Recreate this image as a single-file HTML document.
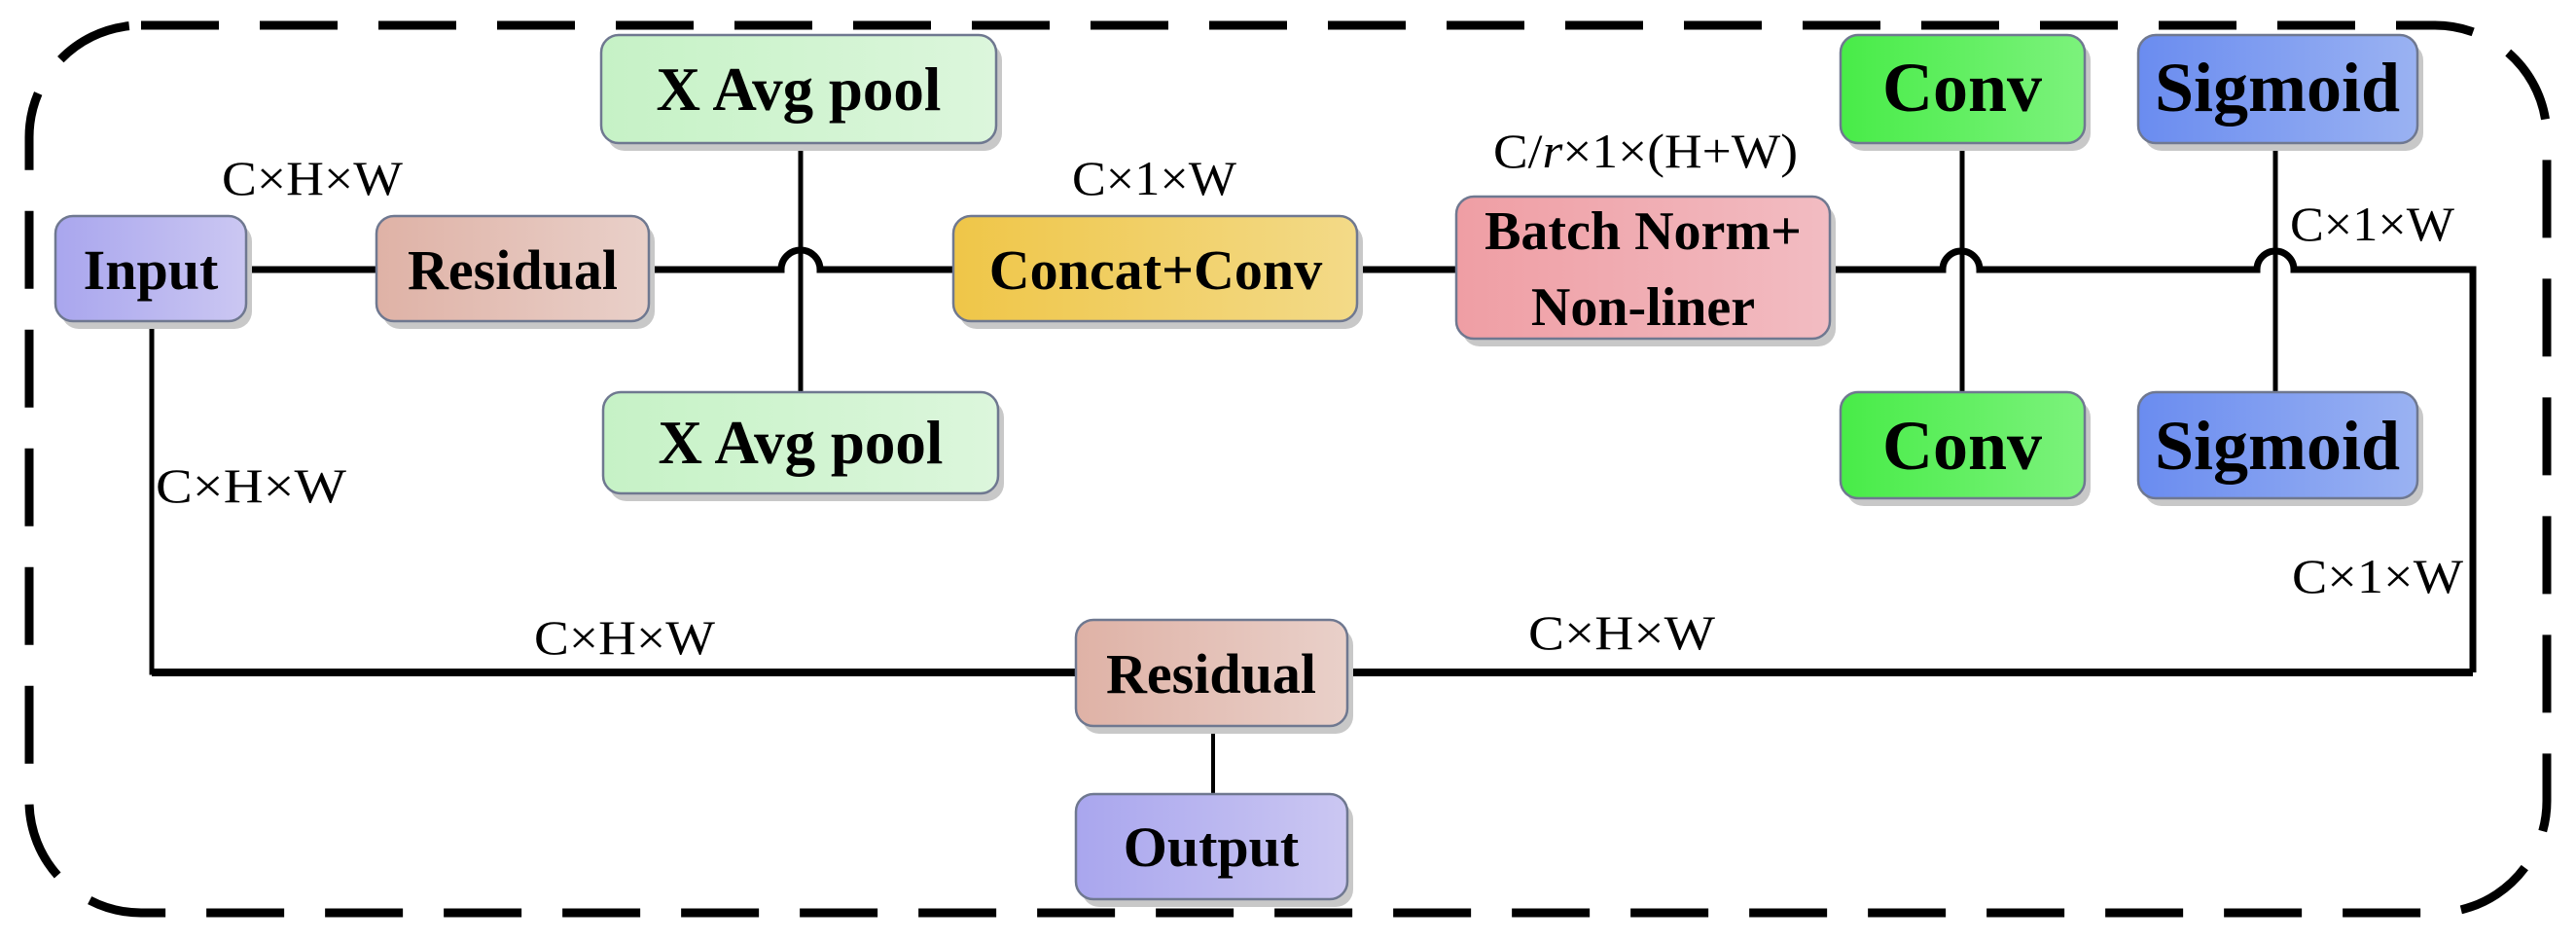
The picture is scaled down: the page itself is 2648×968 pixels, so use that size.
<!DOCTYPE html>
<html><head><meta charset="utf-8"><style>
html,body{margin:0;padding:0;background:#fff;}
svg{display:block;}
.b{font-family:"Liberation Serif",serif;font-weight:bold;fill:#000;text-anchor:middle;}
.l{font-family:"Liberation Serif",serif;fill:#000;font-size:50px;}
</style></head><body>
<svg width="2648" height="968" viewBox="0 0 2648 968" xmlns="http://www.w3.org/2000/svg">
<defs>
<linearGradient id="gIn" x1="0" x2="1"><stop offset="0" stop-color="#a9a6ee"/><stop offset="1" stop-color="#cbc7f2"/></linearGradient>
<linearGradient id="gRes" x1="0" x2="1"><stop offset="0" stop-color="#dfb2a6"/><stop offset="1" stop-color="#e9d0c9"/></linearGradient>
<linearGradient id="gAvg" x1="0" x2="1"><stop offset="0" stop-color="#c6f2c6"/><stop offset="1" stop-color="#dcf6dc"/></linearGradient>
<linearGradient id="gCat" x1="0" x2="1"><stop offset="0" stop-color="#efc648"/><stop offset="1" stop-color="#f3da88"/></linearGradient>
<linearGradient id="gBn" x1="0" x2="1"><stop offset="0" stop-color="#ef9ea4"/><stop offset="1" stop-color="#f2bcc2"/></linearGradient>
<linearGradient id="gConv" x1="0" x2="1"><stop offset="0" stop-color="#48ec48"/><stop offset="1" stop-color="#7cf27c"/></linearGradient>
<linearGradient id="gSig" x1="0" x2="1"><stop offset="0" stop-color="#6a8cf0"/><stop offset="1" stop-color="#9ab2f2"/></linearGradient>
</defs>

<rect x="30" y="26" width="2588" height="912" rx="115" ry="115" fill="none" stroke="#000" stroke-width="9" stroke-dasharray="80 42"/>

<g stroke="#000" fill="none">
<path d="M253 277 H387" stroke-width="7"/>
<path d="M667 277 H803 A20 20 0 0 1 843 277 H980" stroke-width="7"/>
<path d="M1395 277 H1497" stroke-width="7"/>
<path d="M1881 277 H1997 A19 19 0 0 1 2035 277 H2320 A19 19 0 0 1 2358 277 H2542 V691" stroke-width="7"/>
<path d="M823 147 V403" stroke-width="5"/>
<path d="M2017 147 V403" stroke-width="5"/>
<path d="M2339 147 V403" stroke-width="5"/>
<path d="M156 330 V691 H2542" stroke-width="5"/>
<path d="M156 691 H2542" stroke-width="8"/>
<path d="M1247 746 V816" stroke-width="4"/>
</g>

<g stroke="#6f7890" stroke-width="2.5">
<g fill="#c8c8c8" stroke="none">
<rect x="63" y="230" width="196" height="108" rx="18"/>
<rect x="393" y="230" width="280" height="108" rx="18"/>
<rect x="624" y="44" width="406" height="111" rx="18"/>
<rect x="626" y="411" width="406" height="104" rx="18"/>
<rect x="986" y="230" width="415" height="108" rx="18"/>
<rect x="1503" y="210" width="384" height="146" rx="18"/>
<rect x="1898" y="44" width="251" height="111" rx="18"/>
<rect x="2204" y="44" width="287" height="111" rx="18"/>
<rect x="1898" y="411" width="251" height="109" rx="18"/>
<rect x="2204" y="411" width="287" height="109" rx="18"/>
<rect x="1112" y="645" width="279" height="109" rx="18"/>
<rect x="1112" y="824" width="279" height="108" rx="18"/>
</g>
<rect x="57" y="222" width="196" height="108" rx="18" fill="url(#gIn)"/>
<rect x="387" y="222" width="280" height="108" rx="18" fill="url(#gRes)"/>
<rect x="618" y="36" width="406" height="111" rx="18" fill="url(#gAvg)"/>
<rect x="620" y="403" width="406" height="104" rx="18" fill="url(#gAvg)"/>
<rect x="980" y="222" width="415" height="108" rx="18" fill="url(#gCat)"/>
<rect x="1497" y="202" width="384" height="146" rx="18" fill="url(#gBn)"/>
<rect x="1892" y="36" width="251" height="111" rx="18" fill="url(#gConv)"/>
<rect x="2198" y="36" width="287" height="111" rx="18" fill="url(#gSig)"/>
<rect x="1892" y="403" width="251" height="109" rx="18" fill="url(#gConv)"/>
<rect x="2198" y="403" width="287" height="109" rx="18" fill="url(#gSig)"/>
<rect x="1106" y="637" width="279" height="109" rx="18" fill="url(#gRes)"/>
<rect x="1106" y="816" width="279" height="108" rx="18" fill="url(#gIn)"/>
</g>

<text class="b" x="155" y="297" font-size="58">Input</text>
<text class="b" x="527" y="297" font-size="58">Residual</text>
<text class="b" x="821" y="113" font-size="63">X Avg pool</text>
<text class="b" x="823" y="476" font-size="63">X Avg pool</text>
<text class="b" x="1188" y="297" font-size="58">Concat+Conv</text>
<text class="b" x="1689" y="256" font-size="56">Batch Norm+</text>
<text class="b" x="1689" y="334" font-size="56">Non-liner</text>
<text class="b" x="2017" y="114" font-size="72">Conv</text>
<text class="b" x="2341" y="114" font-size="72">Sigmoid</text>
<text class="b" x="2017" y="482" font-size="72">Conv</text>
<text class="b" x="2341" y="482" font-size="72">Sigmoid</text>
<text class="b" x="1245" y="712" font-size="58">Residual</text>
<text class="b" x="1245" y="890" font-size="58">Output</text>

<text class="l" x="228" y="200" textLength="186" lengthAdjust="spacingAndGlyphs">C×H×W</text>
<text class="l" x="1102" y="200" textLength="169" lengthAdjust="spacingAndGlyphs">C×1×W</text>
<text class="l" x="1535" y="172" textLength="313" lengthAdjust="spacingAndGlyphs">C/<tspan font-style="italic">r</tspan>×1×(H+W)</text>
<text class="l" x="2354" y="247" textLength="169" lengthAdjust="spacingAndGlyphs">C×1×W</text>
<text class="l" x="160" y="516" textLength="196" lengthAdjust="spacingAndGlyphs">C×H×W</text>
<text class="l" x="2356" y="609" textLength="176" lengthAdjust="spacingAndGlyphs">C×1×W</text>
<text class="l" x="549" y="672" textLength="186" lengthAdjust="spacingAndGlyphs">C×H×W</text>
<text class="l" x="1571" y="667" textLength="192" lengthAdjust="spacingAndGlyphs">C×H×W</text>
</svg>
</body></html>
